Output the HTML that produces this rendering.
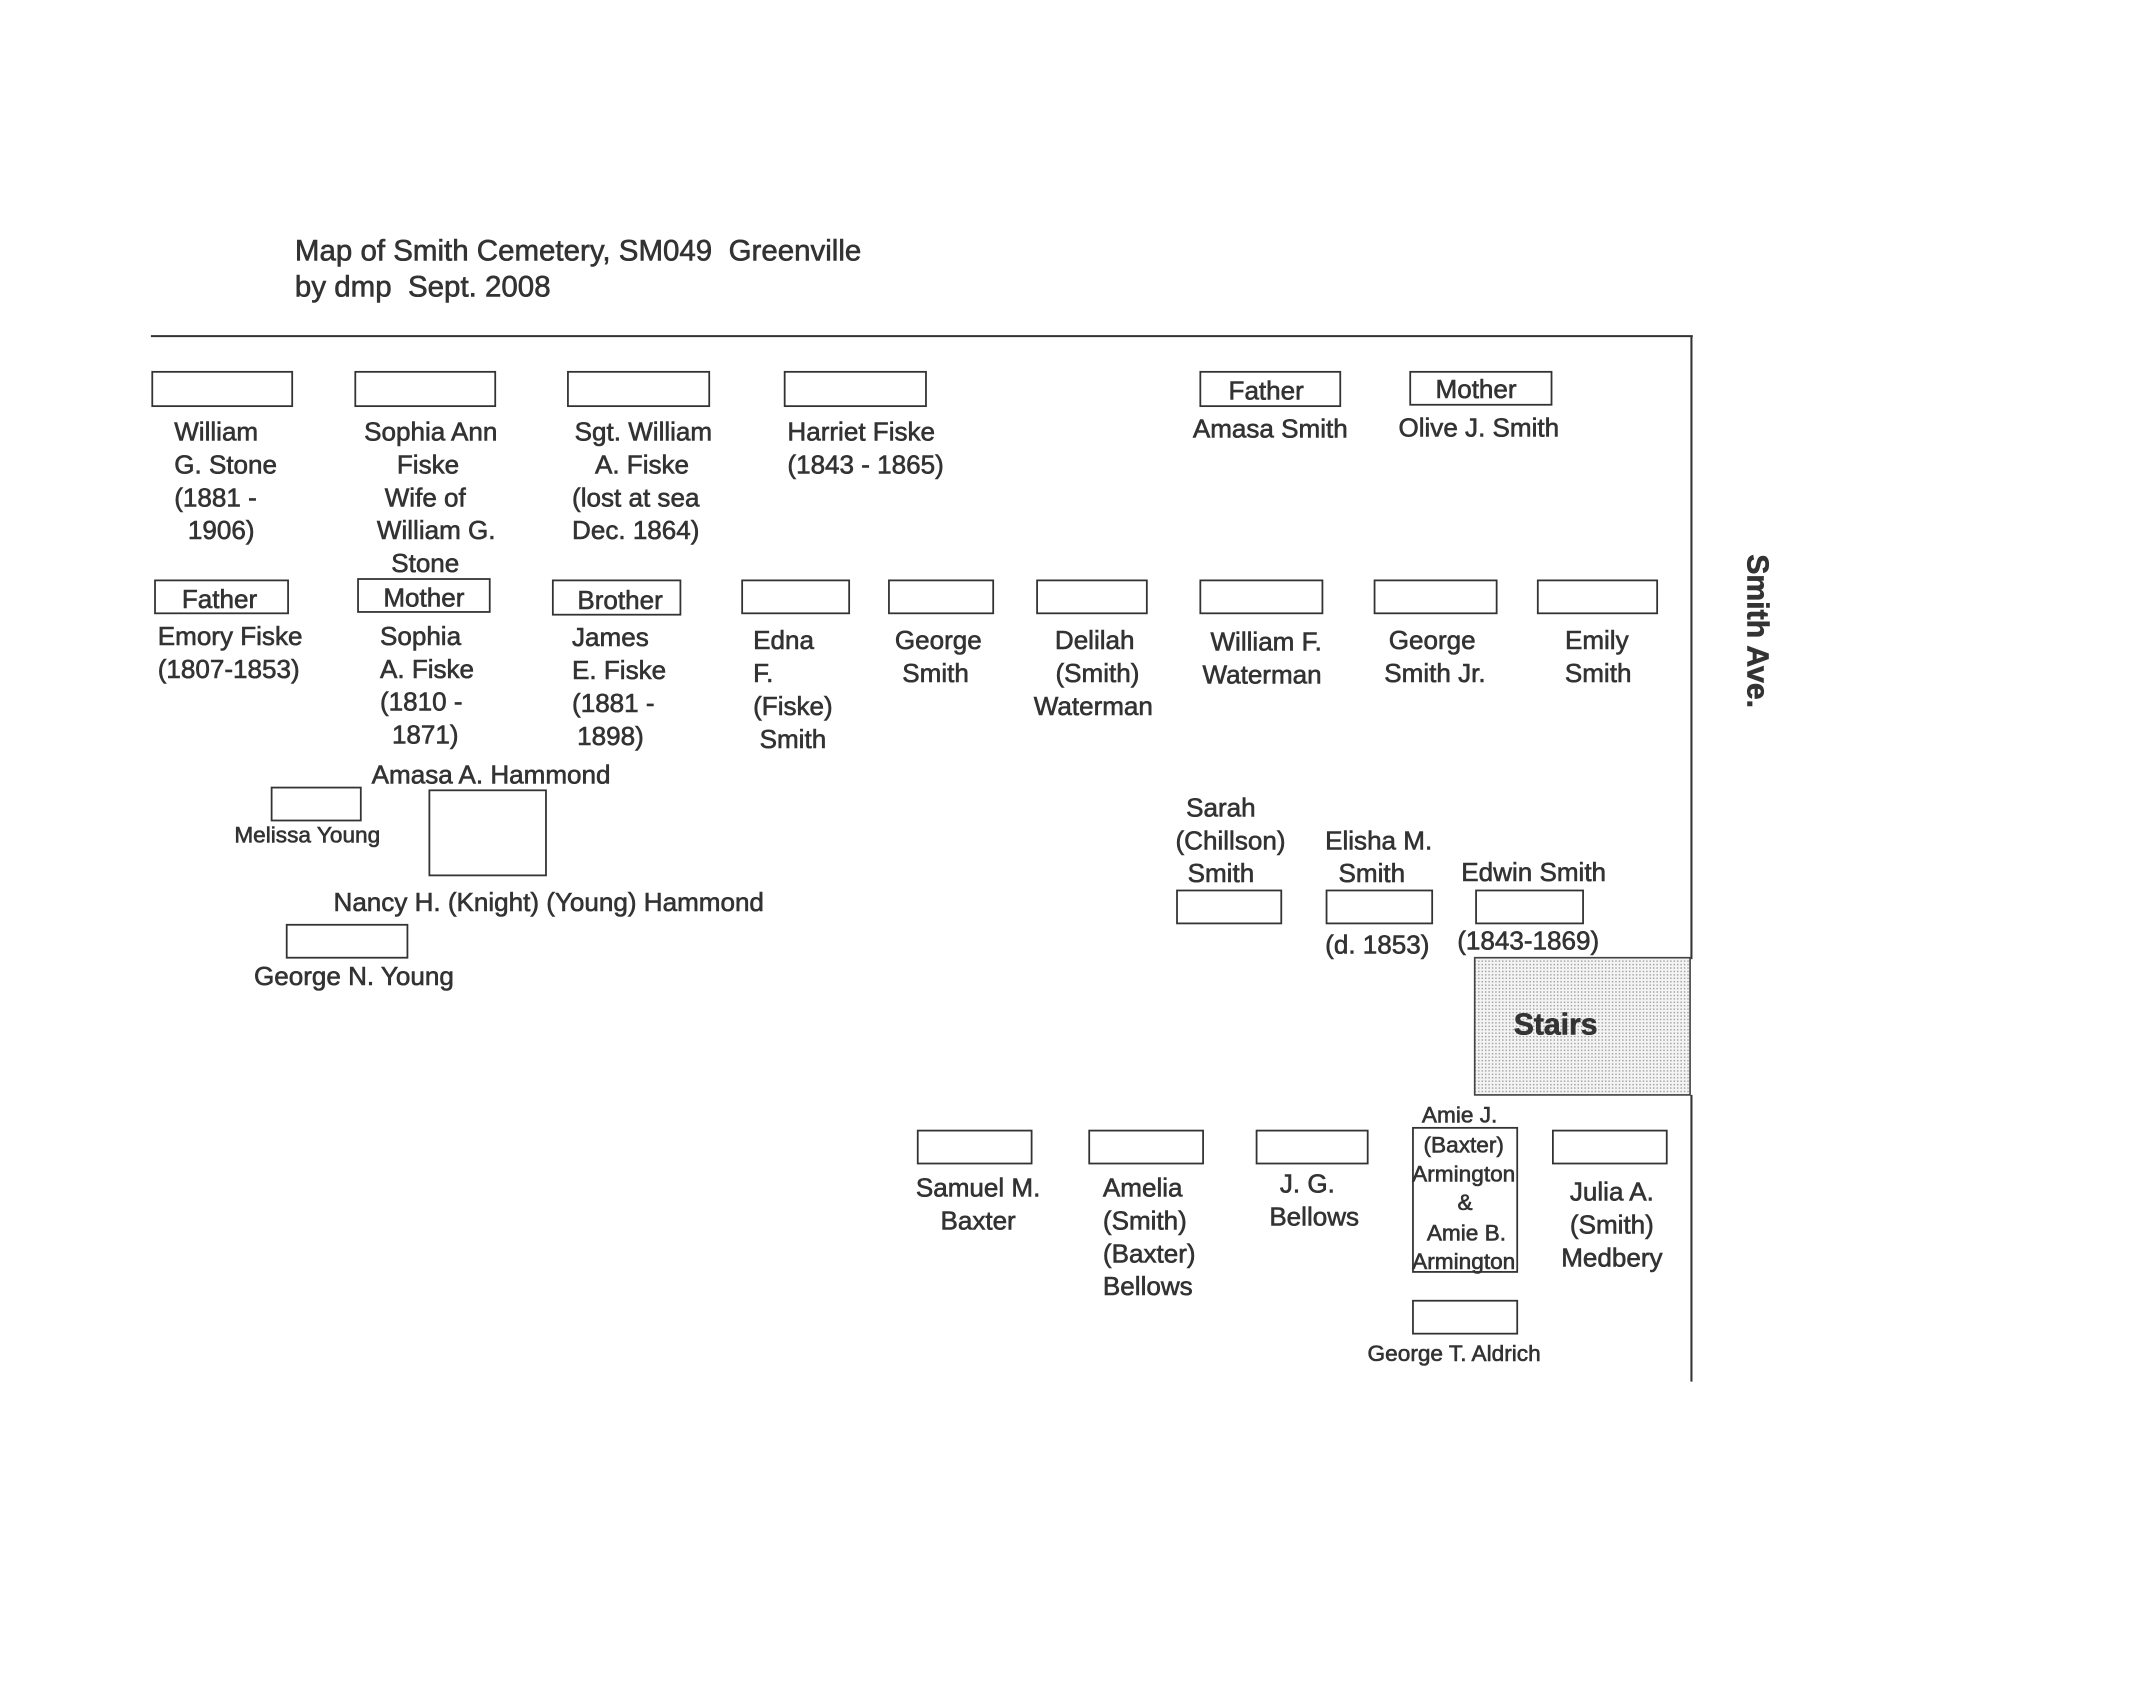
<!DOCTYPE html>
<html><head><meta charset="utf-8"><style>
html,body{margin:0;padding:0;background:#fff;}
svg{display:block;}
text{font-family:"Liberation Sans",Arial,sans-serif;fill:#333;font-size:19px;stroke:#333;stroke-width:0.45;}
.c{text-anchor:middle;}
.s{font-size:16.5px;}
rect.b{fill:#fff;stroke:#333;stroke-width:1.3;}
line{stroke:#333;stroke-width:1.5;}
</style></head><body>
<svg width="2151" height="1700" viewBox="0 0 1568 1239" preserveAspectRatio="none" xmlns="http://www.w3.org/2000/svg">
<defs><pattern id="dots" width="2.5" height="2.5" patternUnits="userSpaceOnUse"><rect width="2.5" height="2.5" fill="#f4f4f4"/><rect width="1" height="1" fill="#999"/></pattern></defs>
<rect width="1568" height="1239" fill="#fff"/>
<text x="215" y="190" style="font-size:21.5px">Map of Smith Cemetery, SM049&#160;&#160;Greenville</text>
<text x="215" y="216" style="font-size:21.5px">by dmp&#160;&#160;Sept. 2008</text>
<line x1="110" y1="245" x2="1234" y2="245"/>
<line x1="1233" y1="245" x2="1233" y2="699"/>
<line x1="1233" y1="798" x2="1233" y2="1007"/>
<rect x="1075" y="698" width="157" height="100" fill="url(#dots)" stroke="#444" stroke-width="1.2"/>
<text x="1134" y="754" class="c" style="font-size:22px;font-weight:bold">Stairs</text>
<text transform="translate(1274,460) rotate(90)" class="c" style="font-size:22px;font-weight:bold">Smith Ave.</text>

<rect class="b" x="111" y="271" width="102" height="25"/>
<rect class="b" x="259" y="271" width="102" height="25"/>
<rect class="b" x="414" y="271" width="103" height="25"/>
<rect class="b" x="572" y="271" width="103" height="25"/>
<rect class="b" x="875" y="271" width="102" height="25"/>
<rect class="b" x="1028" y="271" width="103" height="24"/>
<text x="923" y="291" class="c">Father</text>
<text x="1076" y="290" class="c">Mother</text>
<text x="926" y="319" class="c">Amasa Smith</text>
<text x="1078" y="318" class="c">Olive J. Smith</text>

<text x="127" y="321">William</text><text x="127" y="345">G. Stone</text><text x="127" y="369">(1881 -</text><text x="137" y="393">1906)</text>
<text x="314" y="321" class="c">Sophia Ann</text><text x="312" y="345" class="c">Fiske</text><text x="310" y="369" class="c">Wife of</text><text x="318" y="393" class="c">William G.</text><text x="310" y="417" class="c">Stone</text>
<text x="469" y="321" class="c">Sgt. William</text><text x="468" y="345" class="c">A. Fiske</text><text x="417" y="369">(lost at sea</text><text x="417" y="393">Dec. 1864)</text>
<text x="574" y="321">Harriet Fiske</text><text x="574" y="345">(1843 - 1865)</text>

<rect class="b" x="113" y="423" width="97" height="24"/>
<rect class="b" x="261" y="422" width="96" height="24"/>
<rect class="b" x="403" y="423" width="93" height="25"/>
<rect class="b" x="541" y="423" width="78" height="24"/>
<rect class="b" x="648" y="423" width="76" height="24"/>
<rect class="b" x="756" y="423" width="80" height="24"/>
<rect class="b" x="875" y="423" width="89" height="24"/>
<rect class="b" x="1002" y="423" width="89" height="24"/>
<rect class="b" x="1121" y="423" width="87" height="24"/>
<text x="160" y="443" class="c">Father</text>
<text x="309" y="442" class="c">Mother</text>
<text x="452" y="444" class="c">Brother</text>

<text x="115" y="470">Emory Fiske</text><text x="115" y="494">(1807-1853)</text>
<text x="277" y="470">Sophia</text><text x="277" y="494">A. Fiske</text><text x="277" y="518">(1810 -</text><text x="310" y="542" class="c">1871)</text>
<text x="417" y="471">James</text><text x="417" y="495">E. Fiske</text><text x="417" y="519">(1881 -</text><text x="445" y="543" class="c">1898)</text>
<text x="549" y="473">Edna</text><text x="549" y="497">F.</text><text x="549" y="521">(Fiske)</text><text x="578" y="545" class="c">Smith</text>
<text x="684" y="473" class="c">George</text><text x="682" y="497" class="c">Smith</text>
<text x="798" y="473" class="c">Delilah</text><text x="800" y="497" class="c">(Smith)</text><text x="797" y="521" class="c">Waterman</text>
<text x="923" y="474" class="c">William F.</text><text x="920" y="498" class="c">Waterman</text>
<text x="1044" y="473" class="c">George</text><text x="1046" y="497" class="c">Smith Jr.</text>
<text x="1164" y="473" class="c">Emily</text><text x="1165" y="497" class="c">Smith</text>

<text x="358" y="571" class="c">Amasa A. Hammond</text>
<rect class="b" x="198" y="574" width="65" height="24"/>
<text x="224" y="614" class="c s">Melissa Young</text>
<rect class="b" x="313" y="576" width="85" height="62"/>
<text x="400" y="664" class="c">Nancy H. (Knight) (Young) Hammond</text>
<rect class="b" x="209" y="674" width="88" height="24"/>
<text x="258" y="718" class="c">George N. Young</text>

<text x="890" y="595" class="c">Sarah</text><text x="897" y="619" class="c">(Chillson)</text><text x="890" y="643" class="c">Smith</text>
<rect class="b" x="858" y="649" width="76" height="24"/>
<text x="1005" y="619" class="c">Elisha M.</text><text x="1000" y="643" class="c">Smith</text>
<rect class="b" x="967" y="649" width="77" height="24"/>
<text x="1004" y="695" class="c">(d. 1853)</text>
<text x="1118" y="642" class="c">Edwin Smith</text>
<rect class="b" x="1076" y="649" width="78" height="24"/>
<text x="1114" y="692" class="c">(1843-1869)</text>

<rect class="b" x="669" y="824" width="83" height="24"/>
<rect class="b" x="794" y="824" width="83" height="24"/>
<rect class="b" x="916" y="824" width="81" height="24"/>
<rect class="b" x="1030" y="822" width="76" height="105"/>
<rect class="b" x="1132" y="824" width="83" height="24"/>
<rect class="b" x="1030" y="948" width="76" height="24"/>
<text x="713" y="872" class="c">Samuel M.</text><text x="713" y="896" class="c">Baxter</text>
<text x="804" y="872">Amelia</text><text x="804" y="896">(Smith)</text><text x="804" y="920">(Baxter)</text><text x="804" y="944">Bellows</text>
<text x="953" y="869" class="c">J. G.</text><text x="958" y="893" class="c">Bellows</text>
<text x="1064" y="818" class="c s">Amie J.</text><text x="1067" y="840" class="c s">(Baxter)</text><text x="1067" y="861" class="c s">Armington</text><text x="1068" y="882" class="c s">&amp;</text><text x="1069" y="904" class="c s">Amie B.</text><text x="1067" y="925" class="c s">Armington</text>
<text x="1175" y="875" class="c">Julia A.</text><text x="1175" y="899" class="c">(Smith)</text><text x="1175" y="923" class="c">Medbery</text>
<text x="1060" y="992" class="c s">George T. Aldrich</text>
</svg>
</body></html>
